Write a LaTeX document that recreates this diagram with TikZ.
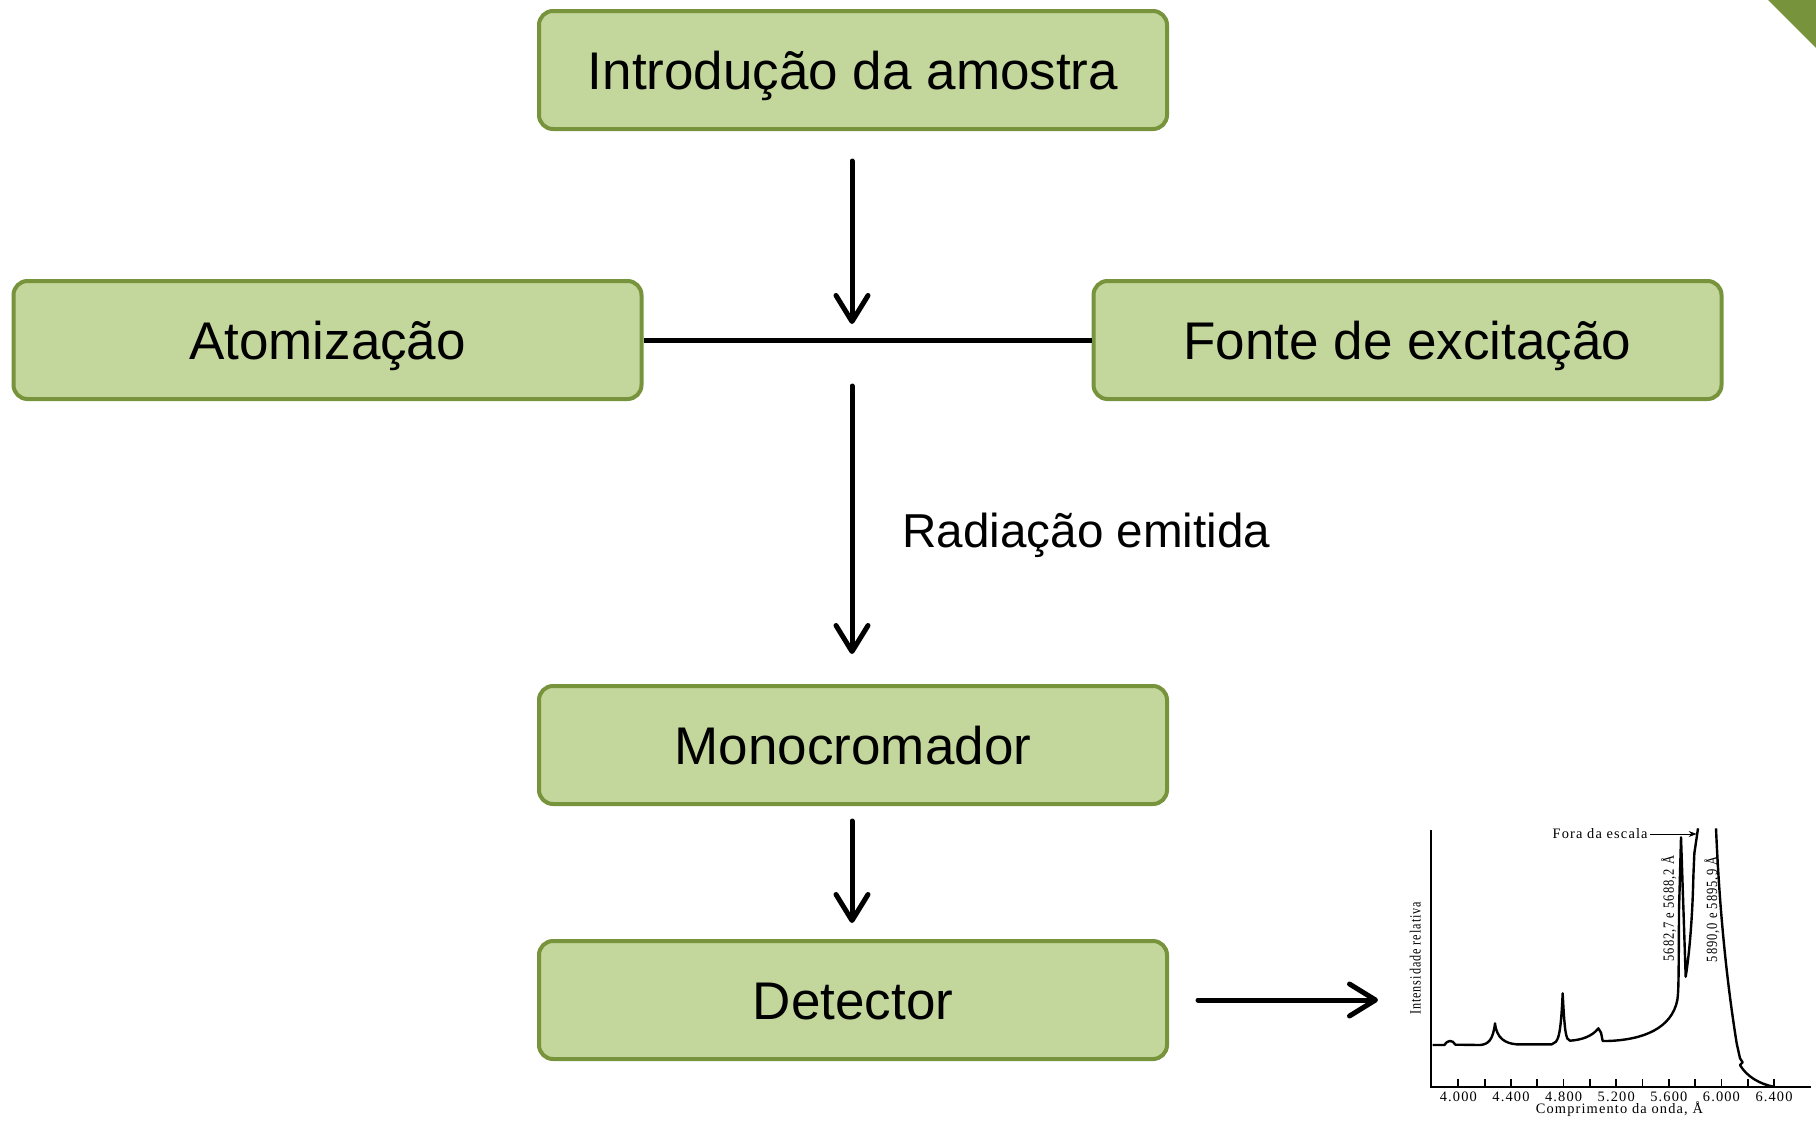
\documentclass[tikz,border=0pt]{standalone}
\usepackage{fontspec}
\setmainfont{Liberation Sans}
\newfontfamily\plotfont[LetterSpace=8]{Liberation Serif}
\usetikzlibrary{arrows.meta}
\definecolor{boxfill}{HTML}{C3D69B}
\definecolor{boxline}{HTML}{77933C}
\begin{document}
\begin{tikzpicture}[x=0.5pt,y=-0.5pt,
  stagebox/.style={draw=boxline, fill=boxfill, line width=2pt, rounded corners=7pt,
    minimum width=314pt, minimum height=59pt, inner sep=0pt,
    text height=24pt, text depth=5pt,
    font=\fontsize{26.5}{30}\selectfont},
  flow/.style={line width=2.5pt, line cap=round,
    -{Straight Barb[length=13pt,width=16pt,line cap=round,line join=round]}},
  plain/.style={line width=2.5pt},
  curve/.style={line width=1.2pt, line join=round},
  axis/.style={line width=0.9pt},
  ticklbl/.style={font=\plotfont\fontsize{7.2}{8}\selectfont, inner sep=0pt},
  rotlbl/.style={font=\plotfont\fontsize{7.8}{8}\selectfont, inner sep=0pt, rotate=90}
]
\useasboundingbox (0,0) rectangle (1816,1120);
\fill[boxline] (1768,0) -- (1816,0) -- (1816,48) -- cycle;

\node[stagebox] (intro) at (853,70) {Introdução da amostra};
\node[stagebox] (atom) at (327.5,340) {Atomização};
\node[stagebox] (fonte) at (1407.5,340) {Fonte de excitação};
\node[stagebox] (mono) at (853,745) {Monocromador};
\node[stagebox] (det) at (853,1000) {Detector};

\coordinate (j) at (852,339);
\coordinate (spec) at (1390,1000);

\draw[plain] (atom.east) -- (fonte.west);
\draw[flow, shorten <=15pt, shorten >=7.5pt] (intro.south -| j) -- (j);
\draw[flow, shorten <=23.5pt, shorten >=15pt] (j) -- (mono.north -| j);
\draw[flow, shorten <=7.5pt, shorten >=8pt] (mono.south -| j) -- (det.north -| j);
\draw[flow, shorten <=14.5pt, shorten >=6pt] (det.east) -- (spec);

\node[anchor=base west, inner sep=0pt, font=\fontsize{23.8}{28}\selectfont] (rad) at (902,547) {Radiação emitida};

% spectrum
\begin{scope}[shift={(1390,810)}, x=0.16667pt, y=-0.16667pt]
  \draw[axis] (124,60) -- (124,830) -- (1262,830);
  \foreach \i in {0,...,12} \draw[axis] ({205+\i*78.92},808) -- ({205+\i*78.92},830);
  \foreach \i/\l in {0/4.000,2/4.400,4/4.800,6/5.200,8/5.600,10/6.000,12/6.400}
    \node[ticklbl] at ({205+\i*78.92},859) {\l};
  \node[ticklbl] (xl) at (688,898) {Comprimento da onda, Å};
  \node[rotlbl] (yl) at (76,445) {\scalebox{0.78}[1]{Intensidade relativa}};
  \node[rotlbl] (l1) at (836,296) {\scalebox{0.8}[1]{5682,7 e 5688,2 Å}};
  \node[rotlbl] (l2) at (966,298) {\scalebox{0.8}[1]{5890,0 e 5895,9 Å}};
  \node[ticklbl, anchor=east] (fora) at (774,72) {Fora da escala};
  \draw[line width=0.5pt, -{Stealth[length=4pt,width=3pt]}] (fora.east) ++(6,0) -- (920,72);
  \draw[curve] (128,705) -- (163,705)
    .. controls (171,690) and (188,688) .. (196,704) -- (270,705)
    .. controls (295,703) and (309,690) .. (315,640)
    .. controls (320,685) and (345,700) .. (380,703) -- (485,703)
    .. controls (505,698) and (512,680) .. (518,550)
    .. controls (524,670) and (528,690) .. (540,692)
    .. controls (572,690) and (606,680) .. (625,655)
    -- (633,668) -- (638,693) -- (650,693)
    .. controls (760,690) and (845,655) .. (862,570)
    .. controls (866,540) and (866,500) .. (867,300)
    -- (873,82) -- (887,500)
    .. controls (900,420) and (908,300) .. (910,200)
    -- (913,130) -- (924,55);
  \draw[curve] (978,55)
    .. controls (985,220) and (1000,450) .. (1040,700)
    -- (1050,745) -- (1058,757) -- (1050,765)
    .. controls (1070,800) and (1110,822) .. (1150,830);
\end{scope}
\end{tikzpicture}
\end{document}
